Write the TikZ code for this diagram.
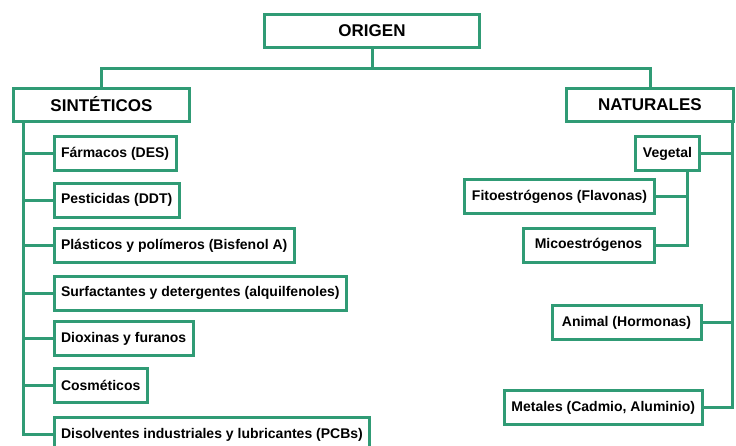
\documentclass[tikz,border=0pt]{standalone}
\usepackage{fontspec}
\setmainfont{Liberation Sans}
\usetikzlibrary{positioning,calc}
\definecolor{verde}{RGB}{48,155,117}
\tikzset{
  caja/.style={draw=verde,line width=3pt,fill=white,inner xsep=7pt,minimum height=34pt,font=\bfseries\fontsize{14}{16}\selectfont},
  titulo/.style={caja,minimum height=33pt,font=\bfseries\fontsize{17}{20}\selectfont},
  rama/.style={draw=verde,line width=3pt}
}

\begin{document}
\begin{tikzpicture}[x=1pt,y=-1pt]
\useasboundingbox (0,0) rectangle (736,445);
\clip (0,0) rectangle (736,445);

\node[titulo,minimum width=215pt] (origen) at (372,31) {ORIGEN};
\node[titulo,minimum width=176pt] (sint) at (101.5,104.5) {SINTÉTICOS};
\node[titulo,minimum width=167pt] (nat) at (650,104.5) {NATURALES};

% sinteticos
\coordinate (tronco) at (23,0);
\node[caja,anchor=west] (farmacos) at (52.5,153.5) {Fármacos (DES)};
\node[caja,anchor=west] (pesticidas) at (52.5,200) {Pesticidas (DDT)};
\node[caja,anchor=west] (plasticos) at (52.5,245.5) {Plásticos y polímeros (Bisfenol A)};
\node[caja,anchor=west] (surfactantes) at (52.5,293) {Surfactantes y detergentes (alquilfenoles)};
\node[caja,anchor=west] (dioxinas) at (52.5,338.5) {Dioxinas y furanos};
\node[caja,anchor=west] (cosmeticos) at (52.5,385) {Cosméticos};
\node[caja,anchor=west] (disolventes) at (52.5,434.5) {Disolventes industriales y lubricantes (PCBs)};

% naturales
\coordinate (troncoN) at (732,0);
\coordinate (troncoV) at (687,0);
\node[caja,anchor=east] (vegetal) at (700.5,153.5) {Vegetal};
\node[caja,anchor=east] (fito) at (655.5,196.5) {Fitoestrógenos (Flavonas)};
\node[caja,anchor=east,minimum width=131pt] (mico) at (655.5,245) {Micoestrógenos};
\node[caja,anchor=east,minimum width=149pt] (animal) at (702.5,322.5) {Animal (Hormonas)};
\node[caja,anchor=east] (metales) at (703.5,407.5) {Metales (Cadmio, Aluminio)};

\draw[rama] (origen.south) -- ++(0,19) coordinate (cruce);
\draw[rama] (sint.north) |- (cruce) -| (nat.north);

\draw[rama] (sint.south -| tronco) |- (disolventes.west);
\foreach \n in {farmacos,pesticidas,plasticos,surfactantes,dioxinas,cosmeticos}
  \draw[rama] (\n.west -| tronco) -- (\n.west);

\draw[rama] (nat.south -| troncoN) |- (metales.east);
\foreach \n in {vegetal,animal}
  \draw[rama] (\n.east) -- (\n.east -| troncoN);
\draw[rama] (vegetal.south -| troncoV) |- (mico.east);
\draw[rama] (fito.east) -- (fito.east -| troncoV);
\end{tikzpicture}
\end{document}
